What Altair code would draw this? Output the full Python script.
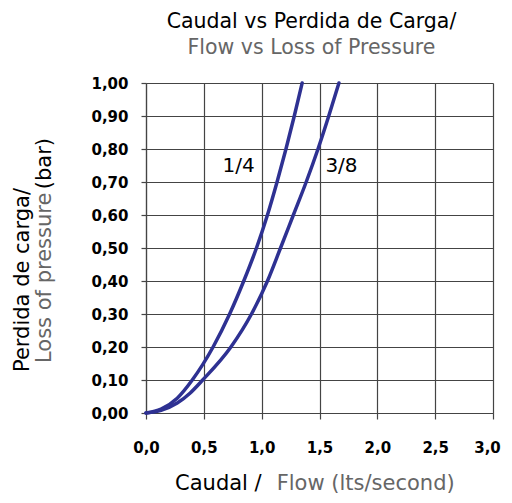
import altair as alt
import pandas as pd

# ---- data ----
series_names = ["1/4", "3/8"]
flow_quarter = [0.0, 0.13, 0.27, 0.40, 0.58, 0.723, 0.845, 0.955, 1.05, 1.133, 1.21, 1.282, 1.35]
pressure_quarter = [0.0, 0.012, 0.045, 0.10, 0.20, 0.30, 0.40, 0.50, 0.60, 0.70, 0.80, 0.90, 1.00]
flow_three_eighths = [0.0, 0.13, 0.27, 0.38, 0.49, 0.734, 0.912, 1.05, 1.163, 1.274, 1.385, 1.487, 1.58, 1.668]
pressure_three_eighths = [0.0, 0.008, 0.03, 0.06, 0.10, 0.20, 0.30, 0.40, 0.50, 0.60, 0.70, 0.80, 0.90, 1.00]

label_x = [0.80, 1.69]
label_y = [0.73, 0.73]

x_ticks = [0.0, 0.5, 1.0, 1.5, 2.0, 2.5, 3.0]
y_ticks = [0.0, 0.1, 0.2, 0.3, 0.4, 0.5, 0.6, 0.7, 0.8, 0.9, 1.0]

title_line1 = "Caudal vs Perdida de Carga/"
title_line2 = "Flow vs Loss of Pressure"
y_title_line1 = "Perdida de carga/"
y_title_line2_gray = "Loss of pressure"
y_title_line2_black = "(bar)"
x_title_black = "Caudal /"
x_title_gray = "Flow (lts/second)"

# ---- styling ----
LINE_COLOR = "#2e3192"
GRAY = "#666666"
GRID = "#444444"
FONT = "DejaVu Sans"

rows = []
for f, p in zip(flow_quarter, pressure_quarter):
    rows.append({"size": series_names[0], "flow": f, "pressure": p})
for f, p in zip(flow_three_eighths, pressure_three_eighths):
    rows.append({"size": series_names[1], "flow": f, "pressure": p})
df_lines = pd.DataFrame(rows)
df_labels = pd.DataFrame({"name": series_names, "lx": label_x, "ly": label_y})

x_scale = alt.Scale(domain=[0, 3], nice=False, zero=False)
y_scale = alt.Scale(domain=[0, 1], nice=False, zero=False)

x_axis = alt.Axis(
    values=x_ticks, title=None, grid=True, tickSize=6, labelPadding=21,
    labelFlush=False, labelOverlap=False,
    labelOffset={"condition": {"test": "datum.value >= 3", "value": -6}, "value": 0},
    labelExpr="replace(format(datum.value, '.1f'), '.', ',')",
)
y_axis = alt.Axis(
    values=y_ticks, title=None, grid=True, tickSize=5, labelPadding=13,
    labelFlush=False, labelOverlap=False,
    labelExpr="replace(format(datum.value, '.2f'), '.', ',')",
)

lines = alt.Chart(df_lines).mark_line(
    strokeWidth=3.5, interpolate="monotone", strokeCap="round", color=LINE_COLOR
).encode(
    x=alt.X("flow:Q", scale=x_scale, axis=x_axis),
    y=alt.Y("pressure:Q", scale=y_scale, axis=y_axis),
    detail="size:N",
)

labels = alt.Chart(df_labels).mark_text(
    font=FONT, fontSize=20, align="center", baseline="alphabetic", color="black"
).encode(
    x=alt.X("lx:Q", scale=x_scale, axis=x_axis),
    y=alt.Y("ly:Q", scale=y_scale, axis=y_axis),
    text="name:N",
)


def free_text(txt, x, y, color, align, angle=0, size=21):
    return alt.Chart(pd.DataFrame({"t": [txt]})).mark_text(
        font=FONT, fontSize=size, align=align, baseline="alphabetic",
        color=color, angle=angle,
    ).encode(x=alt.value(x), y=alt.value(y), text="t:N")


ytitle1 = free_text(y_title_line1, -116.7, 289, "black", "left", angle=270)
ytitle2 = free_text(y_title_line2_gray, -95.3, 280, GRAY, "left", angle=270)
ytitle3 = free_text(y_title_line2_black, -95.3, 55, "black", "right", angle=270)
xtitle1 = free_text(x_title_black, 115.7, 407, "black", "right")
xtitle2 = free_text(x_title_gray, 130.7, 407, GRAY, "left")

chart = alt.layer(
    lines, labels, ytitle1, ytitle2, ytitle3, xtitle1, xtitle2
).properties(
    width=347,
    height=330,
    title=alt.TitleParams(
        text=title_line1, subtitle=title_line2,
        font=FONT, fontSize=20.5, fontWeight="normal", color="black",
        subtitleFont=FONT, subtitleFontSize=20.5, subtitleColor=GRAY,
        subtitlePadding=5, anchor="middle", frame="group", offset=18, dx=-8,
    ),
    autosize=alt.AutoSizeParams(type="none"),
    padding={"left": 138, "top": 75, "right": 11, "bottom": 82},
).configure_view(
    stroke=None
).configure_axis(
    domainColor=GRID, tickColor=GRID, gridColor=GRID, gridOpacity=1,
    domainWidth=1.2, tickWidth=1.2, gridWidth=1.2,
    labelFont=FONT, labelFontSize=15, labelColor="black", labelFontWeight="bold",
)

chart.save("out.html", embed_options={"renderer": "svg", "actions": False})
